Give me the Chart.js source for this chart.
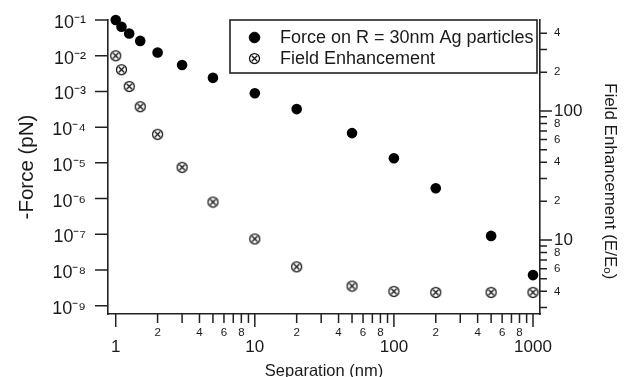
<!DOCTYPE html>
<html><head><meta charset="utf-8">
<script src="https://cdn.jsdelivr.net/npm/chart.js@4.4.1/dist/chart.umd.min.js"></script>
<style>html,body{margin:0;padding:0;background:#fff;}canvas{display:block;}</style>
</head><body>
<canvas id="c" width="626" height="377"></canvas>
<script>
// ---- data ----
const separation = [1, 1.1, 1.25, 1.5, 2, 3, 5, 10, 20, 50, 100, 200, 500, 1000];
const force = [0.1, 0.065, 0.042, 0.026, 0.0123, 0.0055, 0.0024, 8.9e-4, 3.2e-4, 6.8e-5, 1.35e-5, 1.95e-6, 9e-8, 7.2e-9];
const fieldEnhancement = [268, 209, 155, 108, 66, 36.6, 19.7, 10.2, 6.2, 4.4, 4.0, 3.93, 3.93, 3.93];
const seriesNames = ['Force on R = 30nm Ag particles', 'Field Enhancement'];

// ---- ticks ----
const xTicks = [1,2,3,4,5,6,7,8,9,10,20,30,40,50,60,70,80,90,100,200,300,400,500,600,700,800,900,1000];
const xTickLabels = ['1','2','','4','','6','','8','','10','2','','4','','6','','8','','100','2','','4','','6','','8','','1000'];
const forceTicks = [1e-9,1e-8,1e-7,1e-6,1e-5,1e-4,1e-3,1e-2,1e-1];
const forceTickLabels = ['10⁻⁹','10⁻⁸','10⁻⁷','10⁻⁶','10⁻⁵','10⁻⁴','10⁻³','10⁻²','10⁻¹'];
const fieldTicks = [3,4,5,6,7,8,9,10,20,30,40,50,60,70,80,90,100,200,300,400];
const fieldTickLabels = ['','4','','6','','8','','10','2','','4','','6','','8','','100','2','','4'];
const axisTitles = { x: 'Separation (nm)', y: '-Force (pN)', y2: '      Field Enhancement (E/Eₒ)' };

const FONT = '"Liberation Sans", Arial, Helvetica, sans-serif';
const INK = '#1a1a1a';
const LINE = '#222';
const isMajor = v => { const l = Math.log10(v); return Math.abs(l - Math.round(l)) < 1e-9; };

function makeOtimes() {
  const c = document.createElement('canvas');
  c.width = 13; c.height = 13;
  const g = c.getContext('2d');
  g.strokeStyle = '#111'; g.lineWidth = 1.25;
  g.beginPath(); g.arc(6.5, 6.5, 5, 0, Math.PI * 2); g.stroke();
  const d = 2.7;
  g.beginPath();
  g.moveTo(6.5 - d, 6.5 - d); g.lineTo(6.5 + d, 6.5 + d);
  g.moveTo(6.5 + d, 6.5 - d); g.lineTo(6.5 - d, 6.5 + d);
  g.stroke();
  return c;
}
const otimes = makeOtimes();

const tickMarks = {
  id: 'tickMarks',
  afterDraw(chart) {
    const { ctx, scales: { x, y, y2 } } = chart;
    ctx.save();
    ctx.strokeStyle = LINE; ctx.lineWidth = 1.5;
    ctx.beginPath();
    xTicks.forEach(v => {
      const p = x.getPixelForValue(v), len = isMajor(v) ? 13 : 9;
      ctx.moveTo(p, x.top); ctx.lineTo(p, x.top + len);
    });
    forceTicks.forEach(v => {
      const p = y.getPixelForValue(v);
      ctx.moveTo(y.right - 13, p); ctx.lineTo(y.right, p);
    });
    fieldTicks.forEach(v => {
      const p = y2.getPixelForValue(v), len = isMajor(v) ? 12 : 7;
      ctx.moveTo(y2.left, p); ctx.lineTo(y2.left + len, p);
    });
    ctx.stroke();
    ctx.restore();
  }
};

const boxLegend = {
  id: 'boxLegend',
  afterDraw(chart) {
    const { ctx, chartArea: a } = chart;
    const L = a.right - 310, T = a.top, R = a.right - 3, B = a.top + 53;
    ctx.save();
    ctx.fillStyle = '#fff';
    ctx.fillRect(L, T, R - L, B - T);
    ctx.strokeStyle = LINE; ctx.lineWidth = 1.6;
    ctx.strokeRect(L, T, R - L, B - T);
    chart.data.datasets.forEach((ds, i) => {
      const cy = Math.round(T + 16.5 + i * 21.5) + 0.5;
      ctx.fillStyle = ds.backgroundColor; ctx.strokeStyle = ds.borderColor; ctx.lineWidth = 1;
      Chart.helpers.drawPoint(ctx, { pointStyle: ds.pointStyle, radius: ds.pointRadius, borderWidth: 1, rotation: 0 }, L + 24.5, cy);
      ctx.fillStyle = INK;
      ctx.font = '18px ' + FONT;
      ctx.textBaseline = 'middle'; ctx.textAlign = 'left';
      ctx.fillText(ds.label, L + 50, cy + 0.5);
    });
    ctx.restore();
  }
};

const tickFont = (ctx, big) => {
  const t = ctx.tick;
  if (t && isMajor(t.value)) return big;
  return { family: FONT, size: 11.5, lineHeight: 1.05 };
};
const noPadY = s => { s.paddingTop = 0; s.paddingBottom = 0; };
const noPadX = s => { s.paddingLeft = 0; s.paddingRight = 0; };

new Chart(document.getElementById('c'), {
  type: 'scatter',
  data: {
    datasets: [
      { label: seriesNames[0], data: separation.map((s, i) => ({ x: s, y: force[i] })), yAxisID: 'y',
        pointStyle: 'circle', pointRadius: 5.3, backgroundColor: '#000', borderColor: '#000', borderWidth: 0, clip: false },
      { label: seriesNames[1], data: separation.map((s, i) => ({ x: s, y: fieldEnhancement[i] })), yAxisID: 'y2',
        pointStyle: otimes, pointRadius: 5, backgroundColor: '#fff', borderColor: '#111', borderWidth: 1, clip: false }
    ]
  },
  options: {
    responsive: false, animation: false, devicePixelRatio: 1,
    layout: { padding: { top: 20, left: 0, right: 0, bottom: 0 } },
    plugins: { legend: { display: false }, tooltip: { enabled: false } },
    scales: {
      x: {
        type: 'logarithmic', position: 'bottom', min: 0.88, max: 1123,
        afterBuildTicks: s => { s.ticks = xTicks.map(v => ({ value: v })); },
        afterFit: s => { s.height = 63; noPadX(s); },
        grid: { display: false, drawTicks: false },
        border: { display: true, color: LINE, width: 1.6 },
        ticks: { autoSkip: false, maxRotation: 0, minRotation: 0, padding: 13, color: INK,
          callback: (v, i) => xTickLabels[i],
          font: c => tickFont(c, { family: FONT, size: 17, lineHeight: 40 / 17 }) },
        title: { display: true, text: axisTitles.x, color: INK, font: { family: FONT, size: 16.5, lineHeight: 0.7 }, padding: 0 }
      },
      y: {
        type: 'logarithmic', position: 'left', min: 5.86e-10, max: 0.1,
        afterBuildTicks: s => { s.ticks = forceTicks.map(v => ({ value: v })); },
        afterFit: s => { s.width = 108; noPadY(s); },
        grid: { display: false, drawTicks: false },
        border: { display: true, color: LINE, width: 1.6 },
        ticks: { autoSkip: false, padding: 22, labelOffset: 3, color: INK,
          callback: (v, i) => forceTickLabels[i],
          font: { family: FONT, size: 18 } },
        title: { display: true, text: axisTitles.y, color: INK, font: { family: FONT, size: 20.5 }, padding: { top: 15, bottom: 0 } }
      },
      y2: {
        type: 'logarithmic', position: 'right', min: 2.67, max: 507,
        afterBuildTicks: s => { s.ticks = fieldTicks.map(v => ({ value: v })); },
        afterFit: s => { s.width = 86; noPadY(s); },
        grid: { display: false, drawTicks: false },
        border: { display: true, color: LINE, width: 1.6 },
        ticks: { autoSkip: false, padding: 14, color: INK,
          callback: (v, i) => fieldTickLabels[i],
          font: c => tickFont(c, { family: FONT, size: 17, lineHeight: 1.2 }) },
        title: { display: true, text: axisTitles.y2, color: INK, font: { family: FONT, size: 17 }, padding: { top: 6, bottom: 0 } }
      }
    }
  },
  plugins: [tickMarks, boxLegend]
});
</script>
</body></html>
